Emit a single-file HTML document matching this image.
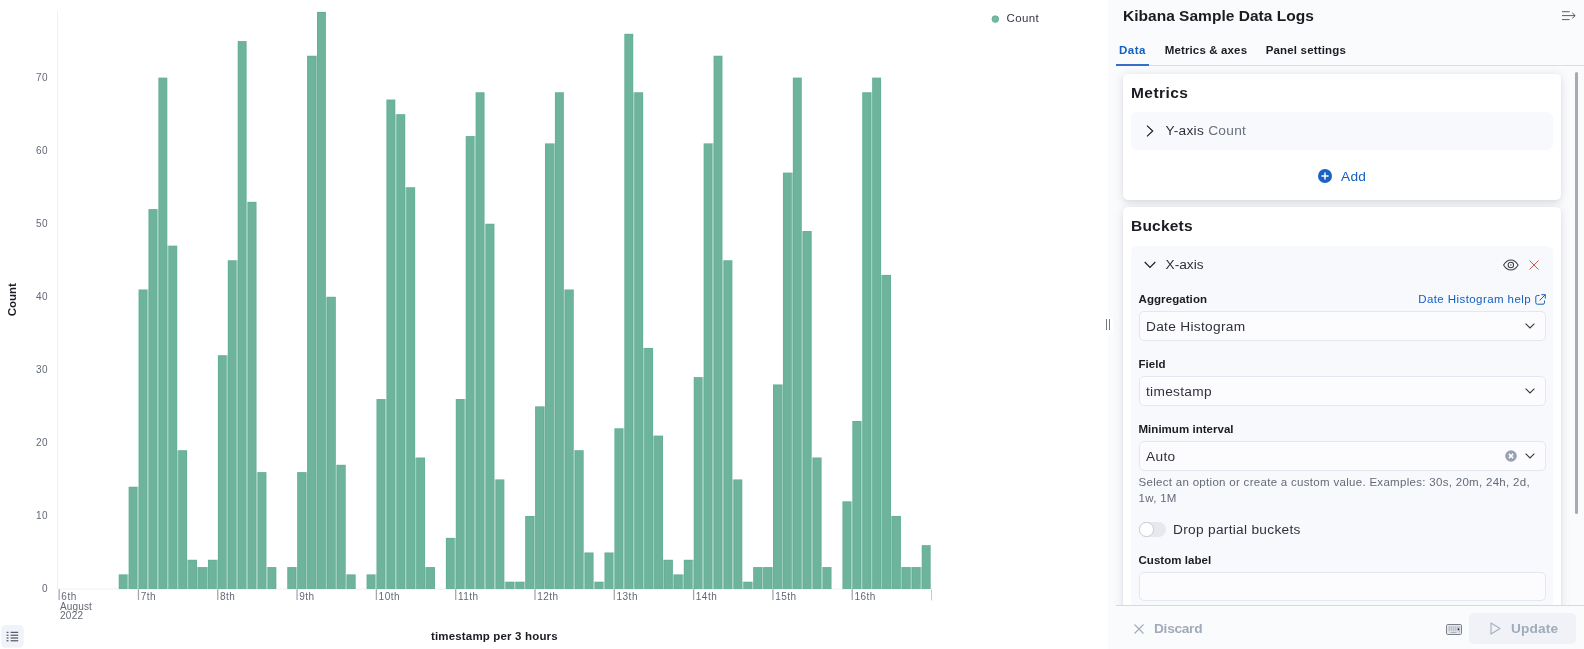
<!DOCTYPE html>
<html><head><meta charset="utf-8"><title>Kibana</title>
<style>
html,body{margin:0;padding:0;}
body{width:1584px;height:649px;overflow:hidden;background:#fff;position:relative;font-family:"Liberation Sans",sans-serif;color:#343741;}
#wrap{position:absolute;left:0;top:0;width:1584px;height:649px;will-change:transform;}
#chart{position:absolute;left:0;top:0;}
.abs{position:absolute;white-space:nowrap;}
#side{position:absolute;left:1108px;top:0;width:476px;height:649px;background:#fafbfd;}
.t16{font-size:15.5px;font-weight:bold;color:#1a1c21;line-height:20px;}
.t14{font-size:13.7px;color:#2e313b;line-height:20px;}
.t12b{font-size:11.5px;font-weight:bold;color:#1a1c21;line-height:16px;}
.t12{font-size:11.5px;color:#646a77;line-height:16px;}
.link{color:#145fbf;}
.card{position:absolute;background:#fff;border-radius:5px;box-shadow:0 1.2px 11px rgba(20,22,35,.10),0 2px 4px rgba(20,22,35,.055);}
.acc{position:absolute;background:#f8f9fc;border-radius:6px;}
.inp{position:absolute;background:#fcfcfe;border:1px solid #e3e7f0;border-radius:5px;box-sizing:border-box;}
svg.ic{position:absolute;overflow:visible;}

</style></head><body>
<div id="wrap">
<svg id="chart" width="1108" height="649" viewBox="0 0 1108 649">
<style>.tk{font:10px "Liberation Sans",sans-serif;fill:#626874}.tt{font:bold 11.5px "Liberation Sans",sans-serif;fill:#1a1c21}</style>
<rect x="57" y="11" width="1" height="578" fill="#eef0f4"/>
<rect x="58" y="588.6" width="873.5" height="1" fill="#eef0f4"/>
<rect x="118.73" y="574.39" width="8.91" height="14.61" fill="#62ae96"/><rect x="119.43" y="575.19" width="7.51" height="13.81" fill="#6eb39c"/>
<rect x="127.65" y="574.39" width="1.00" height="14.61" fill="#9acbba"/>
<rect x="128.65" y="486.73" width="8.91" height="102.27" fill="#62ae96"/><rect x="129.35" y="487.53" width="7.51" height="101.47" fill="#6eb39c"/>
<rect x="137.56" y="486.73" width="1.00" height="102.27" fill="#9acbba"/>
<rect x="138.56" y="289.50" width="8.91" height="299.50" fill="#62ae96"/><rect x="139.26" y="290.30" width="7.51" height="298.70" fill="#6eb39c"/>
<rect x="147.47" y="289.50" width="1.00" height="299.50" fill="#9acbba"/>
<rect x="148.47" y="209.14" width="8.91" height="379.86" fill="#62ae96"/><rect x="149.17" y="209.94" width="7.51" height="379.06" fill="#6eb39c"/>
<rect x="157.39" y="209.14" width="1.00" height="379.86" fill="#9acbba"/>
<rect x="158.39" y="77.65" width="8.91" height="511.35" fill="#62ae96"/><rect x="159.09" y="78.45" width="7.51" height="510.55" fill="#6eb39c"/>
<rect x="167.30" y="245.67" width="1.00" height="343.33" fill="#9acbba"/>
<rect x="168.30" y="245.67" width="8.91" height="343.33" fill="#62ae96"/><rect x="169.00" y="246.47" width="7.51" height="342.53" fill="#6eb39c"/>
<rect x="177.21" y="450.21" width="1.00" height="138.79" fill="#9acbba"/>
<rect x="178.21" y="450.21" width="8.91" height="138.79" fill="#62ae96"/><rect x="178.91" y="451.01" width="7.51" height="137.99" fill="#6eb39c"/>
<rect x="187.13" y="559.78" width="1.00" height="29.22" fill="#9acbba"/>
<rect x="188.13" y="559.78" width="8.91" height="29.22" fill="#62ae96"/><rect x="188.83" y="560.58" width="7.51" height="28.42" fill="#6eb39c"/>
<rect x="197.04" y="567.09" width="1.00" height="21.91" fill="#9acbba"/>
<rect x="198.04" y="567.09" width="8.91" height="21.91" fill="#62ae96"/><rect x="198.74" y="567.88" width="7.51" height="21.11" fill="#6eb39c"/>
<rect x="206.95" y="567.09" width="1.00" height="21.91" fill="#9acbba"/>
<rect x="207.95" y="559.78" width="8.91" height="29.22" fill="#62ae96"/><rect x="208.65" y="560.58" width="7.51" height="28.42" fill="#6eb39c"/>
<rect x="216.87" y="559.78" width="1.00" height="29.22" fill="#9acbba"/>
<rect x="217.87" y="355.24" width="8.91" height="233.76" fill="#62ae96"/><rect x="218.57" y="356.04" width="7.51" height="232.96" fill="#6eb39c"/>
<rect x="226.78" y="355.24" width="1.00" height="233.76" fill="#9acbba"/>
<rect x="227.78" y="260.28" width="8.91" height="328.72" fill="#62ae96"/><rect x="228.48" y="261.08" width="7.51" height="327.92" fill="#6eb39c"/>
<rect x="236.70" y="260.28" width="1.00" height="328.72" fill="#9acbba"/>
<rect x="237.70" y="41.12" width="8.91" height="547.88" fill="#62ae96"/><rect x="238.40" y="41.92" width="7.51" height="547.08" fill="#6eb39c"/>
<rect x="246.61" y="201.84" width="1.00" height="387.16" fill="#9acbba"/>
<rect x="247.61" y="201.84" width="8.91" height="387.16" fill="#62ae96"/><rect x="248.31" y="202.64" width="7.51" height="386.36" fill="#6eb39c"/>
<rect x="256.52" y="472.12" width="1.00" height="116.88" fill="#9acbba"/>
<rect x="257.52" y="472.12" width="8.91" height="116.88" fill="#62ae96"/><rect x="258.22" y="472.92" width="7.51" height="116.08" fill="#6eb39c"/>
<rect x="266.44" y="567.09" width="1.00" height="21.91" fill="#9acbba"/>
<rect x="267.44" y="567.09" width="8.91" height="21.91" fill="#62ae96"/><rect x="268.14" y="567.88" width="7.51" height="21.11" fill="#6eb39c"/>
<rect x="287.26" y="567.09" width="8.91" height="21.91" fill="#62ae96"/><rect x="287.96" y="567.88" width="7.51" height="21.11" fill="#6eb39c"/>
<rect x="296.18" y="567.09" width="1.00" height="21.91" fill="#9acbba"/>
<rect x="297.18" y="472.12" width="8.91" height="116.88" fill="#62ae96"/><rect x="297.88" y="472.92" width="7.51" height="116.08" fill="#6eb39c"/>
<rect x="306.09" y="472.12" width="1.00" height="116.88" fill="#9acbba"/>
<rect x="307.09" y="55.74" width="8.91" height="533.26" fill="#62ae96"/><rect x="307.79" y="56.54" width="7.51" height="532.47" fill="#6eb39c"/>
<rect x="316.00" y="55.74" width="1.00" height="533.26" fill="#9acbba"/>
<rect x="317.00" y="11.90" width="8.91" height="577.10" fill="#62ae96"/><rect x="317.70" y="12.70" width="7.51" height="576.30" fill="#6eb39c"/>
<rect x="325.92" y="296.80" width="1.00" height="292.20" fill="#9acbba"/>
<rect x="326.92" y="296.80" width="8.91" height="292.20" fill="#62ae96"/><rect x="327.62" y="297.60" width="7.51" height="291.40" fill="#6eb39c"/>
<rect x="335.83" y="464.81" width="1.00" height="124.19" fill="#9acbba"/>
<rect x="336.83" y="464.81" width="8.91" height="124.19" fill="#62ae96"/><rect x="337.53" y="465.62" width="7.51" height="123.39" fill="#6eb39c"/>
<rect x="345.75" y="574.39" width="1.00" height="14.61" fill="#9acbba"/>
<rect x="346.75" y="574.39" width="8.91" height="14.61" fill="#62ae96"/><rect x="347.45" y="575.19" width="7.51" height="13.81" fill="#6eb39c"/>
<rect x="366.57" y="574.39" width="8.91" height="14.61" fill="#62ae96"/><rect x="367.27" y="575.19" width="7.51" height="13.81" fill="#6eb39c"/>
<rect x="375.49" y="574.39" width="1.00" height="14.61" fill="#9acbba"/>
<rect x="376.49" y="399.07" width="8.91" height="189.93" fill="#62ae96"/><rect x="377.19" y="399.87" width="7.51" height="189.13" fill="#6eb39c"/>
<rect x="385.40" y="399.07" width="1.00" height="189.93" fill="#9acbba"/>
<rect x="386.40" y="99.56" width="8.91" height="489.44" fill="#62ae96"/><rect x="387.10" y="100.36" width="7.51" height="488.63" fill="#6eb39c"/>
<rect x="395.31" y="114.18" width="1.00" height="474.82" fill="#9acbba"/>
<rect x="396.31" y="114.18" width="8.91" height="474.82" fill="#62ae96"/><rect x="397.01" y="114.98" width="7.51" height="474.02" fill="#6eb39c"/>
<rect x="405.23" y="187.23" width="1.00" height="401.77" fill="#9acbba"/>
<rect x="406.23" y="187.23" width="8.91" height="401.77" fill="#62ae96"/><rect x="406.93" y="188.03" width="7.51" height="400.97" fill="#6eb39c"/>
<rect x="415.14" y="457.51" width="1.00" height="131.49" fill="#9acbba"/>
<rect x="416.14" y="457.51" width="8.91" height="131.49" fill="#62ae96"/><rect x="416.84" y="458.31" width="7.51" height="130.69" fill="#6eb39c"/>
<rect x="425.05" y="567.09" width="1.00" height="21.91" fill="#9acbba"/>
<rect x="426.05" y="567.09" width="8.91" height="21.91" fill="#62ae96"/><rect x="426.75" y="567.88" width="7.51" height="21.11" fill="#6eb39c"/>
<rect x="445.88" y="537.87" width="8.91" height="51.13" fill="#62ae96"/><rect x="446.58" y="538.66" width="7.51" height="50.34" fill="#6eb39c"/>
<rect x="454.80" y="537.87" width="1.00" height="51.13" fill="#9acbba"/>
<rect x="455.80" y="399.07" width="8.91" height="189.93" fill="#62ae96"/><rect x="456.50" y="399.87" width="7.51" height="189.13" fill="#6eb39c"/>
<rect x="464.71" y="399.07" width="1.00" height="189.93" fill="#9acbba"/>
<rect x="465.71" y="136.09" width="8.91" height="452.91" fill="#62ae96"/><rect x="466.41" y="136.89" width="7.51" height="452.11" fill="#6eb39c"/>
<rect x="474.62" y="136.09" width="1.00" height="452.91" fill="#9acbba"/>
<rect x="475.62" y="92.26" width="8.91" height="496.74" fill="#62ae96"/><rect x="476.32" y="93.06" width="7.51" height="495.94" fill="#6eb39c"/>
<rect x="484.54" y="223.75" width="1.00" height="365.25" fill="#9acbba"/>
<rect x="485.54" y="223.75" width="8.91" height="365.25" fill="#62ae96"/><rect x="486.24" y="224.55" width="7.51" height="364.45" fill="#6eb39c"/>
<rect x="494.45" y="479.43" width="1.00" height="109.57" fill="#9acbba"/>
<rect x="495.45" y="479.43" width="8.91" height="109.57" fill="#62ae96"/><rect x="496.15" y="480.23" width="7.51" height="108.77" fill="#6eb39c"/>
<rect x="504.36" y="581.70" width="1.00" height="7.30" fill="#9acbba"/>
<rect x="505.36" y="581.70" width="8.91" height="7.30" fill="#62ae96"/><rect x="506.06" y="582.50" width="7.51" height="6.50" fill="#6eb39c"/>
<rect x="514.28" y="581.70" width="1.00" height="7.30" fill="#9acbba"/>
<rect x="515.28" y="581.70" width="8.91" height="7.30" fill="#62ae96"/><rect x="515.98" y="582.50" width="7.51" height="6.50" fill="#6eb39c"/>
<rect x="524.19" y="581.70" width="1.00" height="7.30" fill="#9acbba"/>
<rect x="525.19" y="515.95" width="8.91" height="73.05" fill="#62ae96"/><rect x="525.89" y="516.75" width="7.51" height="72.25" fill="#6eb39c"/>
<rect x="534.10" y="515.95" width="1.00" height="73.05" fill="#9acbba"/>
<rect x="535.10" y="406.38" width="8.91" height="182.62" fill="#62ae96"/><rect x="535.80" y="407.18" width="7.51" height="181.82" fill="#6eb39c"/>
<rect x="544.02" y="406.38" width="1.00" height="182.62" fill="#9acbba"/>
<rect x="545.02" y="143.40" width="8.91" height="445.60" fill="#62ae96"/><rect x="545.72" y="144.20" width="7.51" height="444.80" fill="#6eb39c"/>
<rect x="553.93" y="143.40" width="1.00" height="445.60" fill="#9acbba"/>
<rect x="554.93" y="92.26" width="8.91" height="496.74" fill="#62ae96"/><rect x="555.63" y="93.06" width="7.51" height="495.94" fill="#6eb39c"/>
<rect x="563.85" y="289.50" width="1.00" height="299.50" fill="#9acbba"/>
<rect x="564.85" y="289.50" width="8.91" height="299.50" fill="#62ae96"/><rect x="565.55" y="290.30" width="7.51" height="298.70" fill="#6eb39c"/>
<rect x="573.76" y="450.21" width="1.00" height="138.79" fill="#9acbba"/>
<rect x="574.76" y="450.21" width="8.91" height="138.79" fill="#62ae96"/><rect x="575.46" y="451.01" width="7.51" height="137.99" fill="#6eb39c"/>
<rect x="583.67" y="552.48" width="1.00" height="36.52" fill="#9acbba"/>
<rect x="584.67" y="552.48" width="8.91" height="36.52" fill="#62ae96"/><rect x="585.37" y="553.27" width="7.51" height="35.73" fill="#6eb39c"/>
<rect x="593.59" y="581.70" width="1.00" height="7.30" fill="#9acbba"/>
<rect x="594.59" y="581.70" width="8.91" height="7.30" fill="#62ae96"/><rect x="595.29" y="582.50" width="7.51" height="6.50" fill="#6eb39c"/>
<rect x="603.50" y="581.70" width="1.00" height="7.30" fill="#9acbba"/>
<rect x="604.50" y="552.48" width="8.91" height="36.52" fill="#62ae96"/><rect x="605.20" y="553.27" width="7.51" height="35.73" fill="#6eb39c"/>
<rect x="613.41" y="552.48" width="1.00" height="36.52" fill="#9acbba"/>
<rect x="614.41" y="428.29" width="8.91" height="160.71" fill="#62ae96"/><rect x="615.11" y="429.09" width="7.51" height="159.91" fill="#6eb39c"/>
<rect x="623.33" y="428.29" width="1.00" height="160.71" fill="#9acbba"/>
<rect x="624.33" y="33.82" width="8.91" height="555.18" fill="#62ae96"/><rect x="625.03" y="34.62" width="7.51" height="554.38" fill="#6eb39c"/>
<rect x="633.24" y="92.26" width="1.00" height="496.74" fill="#9acbba"/>
<rect x="634.24" y="92.26" width="8.91" height="496.74" fill="#62ae96"/><rect x="634.94" y="93.06" width="7.51" height="495.94" fill="#6eb39c"/>
<rect x="643.15" y="347.94" width="1.00" height="241.06" fill="#9acbba"/>
<rect x="644.15" y="347.94" width="8.91" height="241.06" fill="#62ae96"/><rect x="644.85" y="348.74" width="7.51" height="240.26" fill="#6eb39c"/>
<rect x="653.07" y="435.60" width="1.00" height="153.41" fill="#9acbba"/>
<rect x="654.07" y="435.60" width="8.91" height="153.41" fill="#62ae96"/><rect x="654.77" y="436.40" width="7.51" height="152.60" fill="#6eb39c"/>
<rect x="662.98" y="559.78" width="1.00" height="29.22" fill="#9acbba"/>
<rect x="663.98" y="559.78" width="8.91" height="29.22" fill="#62ae96"/><rect x="664.68" y="560.58" width="7.51" height="28.42" fill="#6eb39c"/>
<rect x="672.90" y="574.39" width="1.00" height="14.61" fill="#9acbba"/>
<rect x="673.90" y="574.39" width="8.91" height="14.61" fill="#62ae96"/><rect x="674.60" y="575.19" width="7.51" height="13.81" fill="#6eb39c"/>
<rect x="682.81" y="574.39" width="1.00" height="14.61" fill="#9acbba"/>
<rect x="683.81" y="559.78" width="8.91" height="29.22" fill="#62ae96"/><rect x="684.51" y="560.58" width="7.51" height="28.42" fill="#6eb39c"/>
<rect x="692.72" y="559.78" width="1.00" height="29.22" fill="#9acbba"/>
<rect x="693.72" y="377.15" width="8.91" height="211.84" fill="#62ae96"/><rect x="694.42" y="377.95" width="7.51" height="211.04" fill="#6eb39c"/>
<rect x="702.64" y="377.15" width="1.00" height="211.84" fill="#9acbba"/>
<rect x="703.64" y="143.40" width="8.91" height="445.60" fill="#62ae96"/><rect x="704.34" y="144.20" width="7.51" height="444.80" fill="#6eb39c"/>
<rect x="712.55" y="143.40" width="1.00" height="445.60" fill="#9acbba"/>
<rect x="713.55" y="55.74" width="8.91" height="533.26" fill="#62ae96"/><rect x="714.25" y="56.54" width="7.51" height="532.47" fill="#6eb39c"/>
<rect x="722.46" y="260.28" width="1.00" height="328.72" fill="#9acbba"/>
<rect x="723.46" y="260.28" width="8.91" height="328.72" fill="#62ae96"/><rect x="724.16" y="261.08" width="7.51" height="327.92" fill="#6eb39c"/>
<rect x="732.38" y="479.43" width="1.00" height="109.57" fill="#9acbba"/>
<rect x="733.38" y="479.43" width="8.91" height="109.57" fill="#62ae96"/><rect x="734.08" y="480.23" width="7.51" height="108.77" fill="#6eb39c"/>
<rect x="742.29" y="581.70" width="1.00" height="7.30" fill="#9acbba"/>
<rect x="743.29" y="581.70" width="8.91" height="7.30" fill="#62ae96"/><rect x="743.99" y="582.50" width="7.51" height="6.50" fill="#6eb39c"/>
<rect x="752.20" y="581.70" width="1.00" height="7.30" fill="#9acbba"/>
<rect x="753.20" y="567.09" width="8.91" height="21.91" fill="#62ae96"/><rect x="753.90" y="567.88" width="7.51" height="21.11" fill="#6eb39c"/>
<rect x="762.12" y="567.09" width="1.00" height="21.91" fill="#9acbba"/>
<rect x="763.12" y="567.09" width="8.91" height="21.91" fill="#62ae96"/><rect x="763.82" y="567.88" width="7.51" height="21.11" fill="#6eb39c"/>
<rect x="772.03" y="567.09" width="1.00" height="21.91" fill="#9acbba"/>
<rect x="773.03" y="384.46" width="8.91" height="204.54" fill="#62ae96"/><rect x="773.73" y="385.26" width="7.51" height="203.74" fill="#6eb39c"/>
<rect x="781.95" y="384.46" width="1.00" height="204.54" fill="#9acbba"/>
<rect x="782.95" y="172.62" width="8.91" height="416.38" fill="#62ae96"/><rect x="783.65" y="173.42" width="7.51" height="415.58" fill="#6eb39c"/>
<rect x="791.86" y="172.62" width="1.00" height="416.38" fill="#9acbba"/>
<rect x="792.86" y="77.65" width="8.91" height="511.35" fill="#62ae96"/><rect x="793.56" y="78.45" width="7.51" height="510.55" fill="#6eb39c"/>
<rect x="801.77" y="231.06" width="1.00" height="357.94" fill="#9acbba"/>
<rect x="802.77" y="231.06" width="8.91" height="357.94" fill="#62ae96"/><rect x="803.47" y="231.86" width="7.51" height="357.14" fill="#6eb39c"/>
<rect x="811.69" y="457.51" width="1.00" height="131.49" fill="#9acbba"/>
<rect x="812.69" y="457.51" width="8.91" height="131.49" fill="#62ae96"/><rect x="813.39" y="458.31" width="7.51" height="130.69" fill="#6eb39c"/>
<rect x="821.60" y="567.09" width="1.00" height="21.91" fill="#9acbba"/>
<rect x="822.60" y="567.09" width="8.91" height="21.91" fill="#62ae96"/><rect x="823.30" y="567.88" width="7.51" height="21.11" fill="#6eb39c"/>
<rect x="842.43" y="501.34" width="8.91" height="87.66" fill="#62ae96"/><rect x="843.13" y="502.14" width="7.51" height="86.86" fill="#6eb39c"/>
<rect x="851.34" y="501.34" width="1.00" height="87.66" fill="#9acbba"/>
<rect x="852.34" y="420.99" width="8.91" height="168.01" fill="#62ae96"/><rect x="853.04" y="421.79" width="7.51" height="167.21" fill="#6eb39c"/>
<rect x="861.25" y="420.99" width="1.00" height="168.01" fill="#9acbba"/>
<rect x="862.25" y="92.26" width="8.91" height="496.74" fill="#62ae96"/><rect x="862.95" y="93.06" width="7.51" height="495.94" fill="#6eb39c"/>
<rect x="871.17" y="92.26" width="1.00" height="496.74" fill="#9acbba"/>
<rect x="872.17" y="77.65" width="8.91" height="511.35" fill="#62ae96"/><rect x="872.87" y="78.45" width="7.51" height="510.55" fill="#6eb39c"/>
<rect x="881.08" y="274.88" width="1.00" height="314.12" fill="#9acbba"/>
<rect x="882.08" y="274.88" width="8.91" height="314.12" fill="#62ae96"/><rect x="882.78" y="275.69" width="7.51" height="313.31" fill="#6eb39c"/>
<rect x="891.00" y="515.95" width="1.00" height="73.05" fill="#9acbba"/>
<rect x="892.00" y="515.95" width="8.91" height="73.05" fill="#62ae96"/><rect x="892.70" y="516.75" width="7.51" height="72.25" fill="#6eb39c"/>
<rect x="900.91" y="567.09" width="1.00" height="21.91" fill="#9acbba"/>
<rect x="901.91" y="567.09" width="8.91" height="21.91" fill="#62ae96"/><rect x="902.61" y="567.88" width="7.51" height="21.11" fill="#6eb39c"/>
<rect x="910.82" y="567.09" width="1.00" height="21.91" fill="#9acbba"/>
<rect x="911.82" y="567.09" width="8.91" height="21.91" fill="#62ae96"/><rect x="912.52" y="567.88" width="7.51" height="21.11" fill="#6eb39c"/>
<rect x="920.74" y="567.09" width="1.00" height="21.91" fill="#9acbba"/>
<rect x="921.74" y="545.17" width="8.91" height="43.83" fill="#62ae96"/><rect x="922.44" y="545.97" width="7.51" height="43.03" fill="#6eb39c"/>
<text x="47.8" y="591.8" text-anchor="end" class="tk" letter-spacing="0.3">0</text>
<text x="47.8" y="518.8" text-anchor="end" class="tk" letter-spacing="0.3">10</text>
<text x="47.8" y="445.7" text-anchor="end" class="tk" letter-spacing="0.3">20</text>
<text x="47.8" y="372.7" text-anchor="end" class="tk" letter-spacing="0.3">30</text>
<text x="47.8" y="299.6" text-anchor="end" class="tk" letter-spacing="0.3">40</text>
<text x="47.8" y="226.6" text-anchor="end" class="tk" letter-spacing="0.3">50</text>
<text x="47.8" y="153.5" text-anchor="end" class="tk" letter-spacing="0.3">60</text>
<text x="47.8" y="80.5" text-anchor="end" class="tk" letter-spacing="0.3">70</text>
<rect x="58.50" y="589.2" width="1.3" height="10.9" fill="#a4a8b2"/>
<text x="61.35" y="600.1" class="tk" letter-spacing="0.5">6th</text>
<rect x="137.81" y="589.2" width="1.3" height="10.9" fill="#a4a8b2"/>
<text x="140.66" y="600.1" class="tk" letter-spacing="0.5">7th</text>
<rect x="217.12" y="589.2" width="1.3" height="10.9" fill="#a4a8b2"/>
<text x="219.97" y="600.1" class="tk" letter-spacing="0.5">8th</text>
<rect x="296.43" y="589.2" width="1.3" height="10.9" fill="#a4a8b2"/>
<text x="299.28" y="600.1" class="tk" letter-spacing="0.5">9th</text>
<rect x="375.74" y="589.2" width="1.3" height="10.9" fill="#a4a8b2"/>
<text x="378.59" y="600.1" class="tk" letter-spacing="0.5">10th</text>
<rect x="455.05" y="589.2" width="1.3" height="10.9" fill="#a4a8b2"/>
<text x="457.90" y="600.1" class="tk" letter-spacing="0.5">11th</text>
<rect x="534.35" y="589.2" width="1.3" height="10.9" fill="#a4a8b2"/>
<text x="537.20" y="600.1" class="tk" letter-spacing="0.5">12th</text>
<rect x="613.66" y="589.2" width="1.3" height="10.9" fill="#a4a8b2"/>
<text x="616.51" y="600.1" class="tk" letter-spacing="0.5">13th</text>
<rect x="692.97" y="589.2" width="1.3" height="10.9" fill="#a4a8b2"/>
<text x="695.82" y="600.1" class="tk" letter-spacing="0.5">14th</text>
<rect x="772.28" y="589.2" width="1.3" height="10.9" fill="#a4a8b2"/>
<text x="775.13" y="600.1" class="tk" letter-spacing="0.5">15th</text>
<rect x="851.59" y="589.2" width="1.3" height="10.9" fill="#a4a8b2"/>
<text x="854.44" y="600.1" class="tk" letter-spacing="0.5">16th</text>
<rect x="931.05" y="589.5" width="1" height="11" fill="#c4c8d0"/>
<text x="59.95" y="609.7" class="tk" letter-spacing="0.15">August</text>
<text x="59.95" y="619.4" class="tk" letter-spacing="0.3">2022</text>
<text class="tt" transform="translate(16.2,299.8) rotate(-90)" text-anchor="middle" letter-spacing="-0.07">Count</text>
<text class="tt" x="494.4" y="640.0" text-anchor="middle" letter-spacing="0.165">timestamp per 3 hours</text>
<circle cx="995.3" cy="19.1" r="3.3" fill="#76b8a2" stroke="#5fae94" stroke-width="0.9"/>
<text x="1006.5" y="22.0" style="font:11.5px 'Liberation Sans',sans-serif;fill:#343741" letter-spacing="0.37">Count</text>
<rect x="1.2" y="625.1" width="22.6" height="22.6" rx="4.5" fill="#f0f3f9"/>
<g fill="#343741">
<rect x="6.6" y="631.8" width="1.9" height="1"/><rect x="10.6" y="631.8" width="7.6" height="1"/>
<rect x="6.6" y="634.7" width="1.9" height="1"/><rect x="10.6" y="634.7" width="7.6" height="1"/>
<rect x="6.6" y="637.5" width="1.9" height="1"/><rect x="10.6" y="637.5" width="7.6" height="1"/>
<rect x="6.6" y="640.3" width="1.9" height="1"/><rect x="10.6" y="640.3" width="7.6" height="1"/>
</g>
</svg>
<div id="side"></div>
<!-- resizer -->
<div class="abs" style="left:1103.5px;top:316.5px;width:9px;height:16px;border-radius:3px;background:#fff"></div>
<div class="abs" style="left:1106px;top:319px;width:1.3px;height:11px;background:#777a83"></div>
<div class="abs" style="left:1109px;top:319px;width:1.3px;height:11px;background:#777a83"></div>

<!-- title -->
<div class="abs t16" style="letter-spacing:0.02px;left:1123px;top:6.4px;">Kibana Sample Data Logs</div>
<svg class="ic" style="left:1562px;top:10px" width="14" height="12" viewBox="0 0 14 12"><path d="M0 1.7H7.6M0 5.6H13M0 9.6H7.6M10.2 2.8L13.2 5.6L10.2 8.4" fill="none" stroke="#484b56" stroke-width=".9"/></svg>

<!-- tabs -->
<div class="abs t12b" style="letter-spacing:0.5px;left:1119px;top:41.8px;color:#145fbf">Data</div>
<div class="abs t12b" style="letter-spacing:0.14px;left:1164.7px;top:41.8px;">Metrics &amp; axes</div>
<div class="abs t12b" style="letter-spacing:0.17px;left:1265.7px;top:41.8px;">Panel settings</div>
<div class="abs" style="left:1116px;top:65px;width:468px;height:1px;background:#d8deea"></div>
<div class="abs" style="left:1116px;top:64.1px;width:33.3px;height:1.9px;background:#366fcb"></div>

<!-- metrics card -->
<div class="card" style="left:1123.4px;top:74.2px;width:437.9px;height:125.5px;"></div>
<div class="abs t16" style="letter-spacing:0.45px;left:1131px;top:82.9px;">Metrics</div>
<div class="acc" style="left:1131px;top:112px;width:422px;height:37.5px;"></div>
<svg class="ic" style="left:1146px;top:125px" width="8" height="12" viewBox="0 0 8 12"><path d="M1 0.7L6.7 6L1 11.3" fill="none" stroke="#1a1c21" stroke-width="1.15"/></svg>
<div class="abs t14" style="letter-spacing:0.3px;left:1165.5px;top:120.9px;">Y-axis <span style="color:#69707d">Count</span></div>
<svg class="ic" style="left:1317.8px;top:169.2px" width="14" height="14" viewBox="0 0 14 14"><circle cx="7" cy="7" r="7" fill="#1a62c3"/><path d="M7 3.4V10.6M3.4 7H10.6" stroke="#fff" stroke-width="1.5" fill="none"/></svg>
<div class="abs t14 link" style="letter-spacing:0.30px;left:1341px;top:167.4px;">Add</div>

<!-- buckets card -->
<div class="card" style="left:1123.4px;top:207.3px;width:437.9px;height:420px;"></div>
<div class="abs t16" style="letter-spacing:0.22px;left:1131px;top:216.0px;">Buckets</div>
<div class="acc" style="left:1131px;top:245.5px;width:422px;height:380px;"></div>
<svg class="ic" style="left:1144px;top:261px" width="12" height="8" viewBox="0 0 12 8"><path d="M0.7 1L6 6.5L11.3 1" fill="none" stroke="#1a1c21" stroke-width="1.15"/></svg>
<div class="abs t14" style="letter-spacing:0.00px;left:1165.5px;top:254.9px;">X-axis</div>
<!-- eye -->
<svg class="ic" style="left:1503.4px;top:258.8px" width="15.7" height="11.8" viewBox="0 0 16 12"><path d="M0.6 6C2.6 2.6 5.1 0.9 8 0.9S13.4 2.6 15.4 6C13.4 9.4 10.9 11.1 8 11.1S2.6 9.4 0.6 6Z" fill="none" stroke="#3b3e49" stroke-width="1.05"/><circle cx="8" cy="6" r="2.8" fill="none" stroke="#3b3e49" stroke-width="1.05"/><circle cx="8" cy="6" r="0.75" fill="#3b3e49"/></svg>
<!-- cross -->
<svg class="ic" style="left:1529px;top:260px" width="10" height="10" viewBox="0 0 10 10"><path d="M0.5 0.5L9.5 9.5M9.5 0.5L0.5 9.5" stroke="#c2453c" stroke-width="0.9" fill="none"/></svg>

<div class="abs t12b" style="letter-spacing:0.08px;left:1138.5px;top:291px;">Aggregation</div>
<div class="abs t12 link" style="letter-spacing:0.42px;left:1418.2px;top:291px;">Date Histogram help</div>
<svg class="ic" style="left:1535px;top:293.5px" width="11" height="11" viewBox="0 0 11 11"><path d="M4.5 1.5H2.3A1.5 1.5 0 0 0 .8 3V8.7A1.5 1.5 0 0 0 2.3 10.2H8A1.5 1.5 0 0 0 9.5 8.7V6.5M6.3 .7H10.3V4.7M10.3 .7L4.6 6.4" fill="none" stroke="#145fbf" stroke-width="1"/></svg>
<div class="inp" style="left:1138.5px;top:311.2px;width:407px;height:29.6px;"></div>
<div class="abs t14" style="letter-spacing:0.31px;left:1146px;top:316.9px;">Date Histogram</div>
<svg class="ic" style="left:1525.2px;top:322.6px" width="10" height="6" viewBox="0 0 10 6"><path d="M0.6 0.7L5 5L9.4 0.7" fill="none" stroke="#343741" stroke-width="1.1"/></svg>

<div class="abs t12b" style="letter-spacing:0.05px;left:1138.5px;top:356px;">Field</div>
<div class="inp" style="left:1138.5px;top:376.2px;width:407px;height:29.6px;"></div>
<div class="abs t14" style="letter-spacing:0.30px;left:1146px;top:381.9px;">timestamp</div>
<svg class="ic" style="left:1525.2px;top:387.6px" width="10" height="6" viewBox="0 0 10 6"><path d="M0.6 0.7L5 5L9.4 0.7" fill="none" stroke="#343741" stroke-width="1.1"/></svg>

<div class="abs t12b" style="letter-spacing:0.03px;left:1138.5px;top:421px;">Minimum interval</div>
<div class="inp" style="left:1138.5px;top:441.1px;width:407px;height:29.6px;"></div>
<div class="abs t14" style="letter-spacing:0.33px;left:1146px;top:446.9px;">Auto</div>
<svg class="ic" style="left:1505.1px;top:449.5px" width="12" height="12" viewBox="0 0 12 12"><circle cx="6" cy="6" r="5.8" fill="#98a2b3"/><path d="M3.9 3.9L8.1 8.1M8.1 3.9L3.9 8.1" stroke="#fff" stroke-width="1.6" fill="none"/></svg>
<svg class="ic" style="left:1525.2px;top:452.6px" width="10" height="6" viewBox="0 0 10 6"><path d="M0.6 0.7L5 5L9.4 0.7" fill="none" stroke="#343741" stroke-width="1.1"/></svg>
<div class="abs t12" style="letter-spacing:0.3px;left:1138.5px;top:475.2px;line-height:15.5px;white-space:normal;width:405px;">Select an option or create a custom value. Examples: 30s, 20m, 24h, 2d, 1w, 1M</div>

<!-- switch -->
<div class="abs" style="left:1139.4px;top:522px;width:26.2px;height:15px;border-radius:8px;background:#e6e8ee;"></div>
<div class="abs" style="left:1139.4px;top:522.2px;width:14.4px;height:14.4px;box-sizing:border-box;border-radius:50%;background:#fff;border:1px solid #c8cbd2;"></div>
<div class="abs t14" style="letter-spacing:0.30px;left:1173px;top:519.9px;">Drop partial buckets</div>

<div class="abs t12b" style="letter-spacing:0.04px;left:1138.5px;top:552px;">Custom label</div>
<div class="inp" style="left:1138.5px;top:571.9px;width:407px;height:29.6px;"></div>

<!-- scrollbar -->
<div class="abs" style="left:1574.7px;top:72px;width:3.6px;height:441.5px;border-radius:2px;background:#a6aab4"></div>

<!-- footer -->
<div class="abs" style="left:1108px;top:605.5px;width:476px;height:43.5px;background:#fafbfd"></div>
<div class="abs" style="left:1116px;top:605px;width:468px;height:1px;background:#d3dae6"></div>
<svg class="ic" style="left:1133.5px;top:624px" width="10" height="10" viewBox="0 0 10 10"><path d="M0.5 0.5L9.5 9.5M9.5 0.5L0.5 9.5" stroke="#a2abba" stroke-width="1.1" fill="none"/></svg>
<div class="abs" style="letter-spacing:-0.28px;left:1154px;top:619px;font-size:13.7px;font-weight:bold;line-height:20px;color:#a2abba;">Discard</div>
<!-- keyboard -->
<svg class="ic" style="left:1446px;top:624px" width="16" height="11" viewBox="0 0 16 11"><rect x=".5" y=".5" width="15" height="10" rx="1.2" fill="#e3e5ea" stroke="#7b818d" stroke-width="1"/><path d="M3.2 2.2V7M5.2 2.2V7M7.2 2.2V7M9.2 2.2V7M11.2 2.2V7M13.2 2.2V8.6" stroke="#a9aeb9" stroke-width=".9"/><path d="M4.5 8.4H10.5" stroke="#a0a5b0" stroke-width=".9"/><ellipse cx="12.5" cy="5.3" rx=".7" ry="1" fill="#1a1c21"/></svg>
<div class="abs" style="left:1469.3px;top:613.3px;width:107px;height:30.5px;border-radius:5px;background:#f0f2f7"></div>
<svg class="ic" style="left:1490px;top:622.2px" width="11" height="13" viewBox="0 0 11 13"><path d="M1 1L10 6.5L1 12Z" fill="none" stroke="#a9b1c2" stroke-width="1.2" stroke-linejoin="round"/></svg>
<div class="abs" style="letter-spacing:0.15px;left:1511px;top:619px;font-size:13.7px;font-weight:bold;line-height:20px;color:#a2abba">Update</div>

</div>
</body></html>
